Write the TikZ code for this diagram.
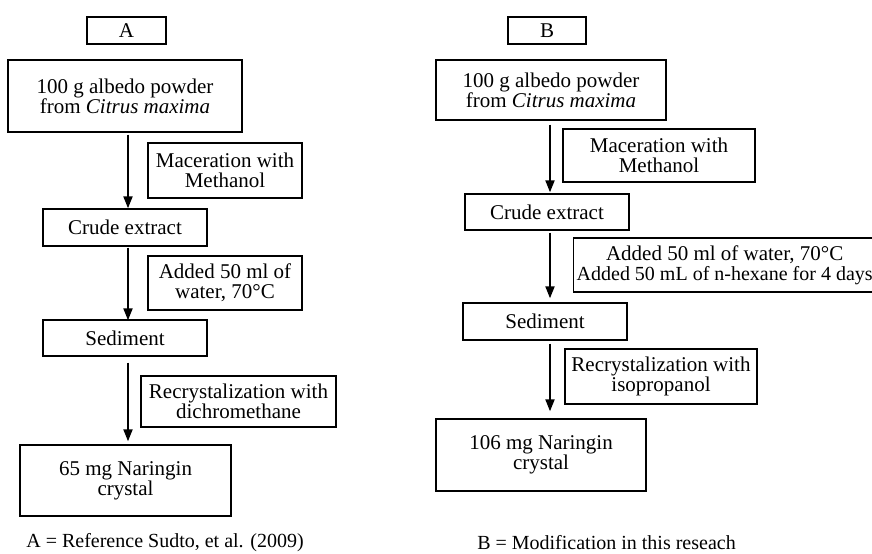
\documentclass[tikz,border=0pt]{standalone}
\usepackage{fontspec}
\setmainfont{Liberation Serif}
\usetikzlibrary{arrows.meta}

\begin{document}
\begin{tikzpicture}[x=0.5pt,y=-0.5pt,
	box/.style={rectangle, draw=black, line width=0.7pt, inner sep=0mm, align=center, font=\fontsize{10.5}{10}\selectfont},
	flow/.style={line width=1pt, -{Triangle[length=6pt,width=4.5pt]}},
	legend/.style={inner sep=0mm, font=\fontsize{10}{12}\selectfont}]

	\clip (0,0) rectangle (872,553);

	% method A
	\node[box, minimum width=39.5pt, minimum height=13.5pt] at (126.5,30.5) (labA) {A};

	\node[box, minimum width=117pt, minimum height=36pt] at (125,96) (powA) {100 g albedo powder\\from \textit{Citrus maxima}};

	\node[box, minimum width=77pt, minimum height=27.5pt] at (225,170.5) (macA) {Maceration with\\Methanol};

	\node[box, minimum width=82pt, minimum height=18.5pt] at (125,227.5) (crudeA) {Crude extract};

	\node[box, minimum width=77pt, minimum height=27pt] at (225,283) (addA) {Added 50 ml of\\water, 70°C};

	\node[box, minimum width=82pt, minimum height=18pt] at (125,338) (sedA) {Sediment};

	\node[box, minimum width=97.5pt, minimum height=25.5pt] at (238.5,401.5) (recA) {Recrystalization with\\dichromethane};

	\node[box, minimum width=105.5pt, minimum height=35.5pt] at (125.5,480.5) (narA) {65 mg Naringin\\crystal};

	\draw[flow, shorten <=1pt] ([xshift=1.5pt]powA.south) -- ([xshift=1.5pt]crudeA.north);
	\draw[flow, shorten <=0.5pt, shorten >=-0.5pt] ([xshift=1.5pt]crudeA.south) -- ([xshift=1.5pt]sedA.north);
	\draw[flow, shorten <=3pt, shorten >=1.5pt] ([xshift=1.5pt]sedA.south) -- ([xshift=1.25pt]narA.north);

	\node[legend] at (165,543) (capA) {A = Reference Sudto, et al. (2009)};

	% method B
	\node[box, minimum width=39pt, minimum height=13.5pt] at (547,30.5) (labB) {B};

	\node[box, minimum width=115pt, minimum height=30pt] at (551,90) (powB) {100 g albedo powder\\from \textit{Citrus maxima}};

	\node[box, minimum width=96pt, minimum height=26.5pt] at (659,155.5) (macB) {Maceration with\\Methanol};

	\node[box, minimum width=82pt, minimum height=18pt] at (547,212) (crudeB) {Crude extract};

	% right edge runs off the page, as in the original
	\node[box, anchor=west, minimum width=151pt, minimum height=27pt] at (573,265) (addB) {Added 50 ml of water, 70°C\\{\fontsize{10}{10}\selectfont Added 50 mL of n-hexane for 4 days}};

	\node[box, minimum width=82pt, minimum height=18.5pt] at (545,321.5) (sedB) {Sediment};

	\node[box, minimum width=96pt, minimum height=27.5pt] at (661,376.5) (recB) {Recrystalization with\\isopropanol};

	\node[box, minimum width=105pt, minimum height=36pt] at (541,455) (narB) {106 mg Naringin\\crystal};

	\draw[flow, shorten <=2pt, shorten >=0.5pt] ([xshift=-0.5pt]powB.south) -- ([xshift=1.5pt]crudeB.north);
	\draw[flow, shorten <=1pt, shorten >=2pt] ([xshift=1.5pt]crudeB.south) -- ([xshift=2.5pt]sedB.north);
	\draw[flow, shorten <=1.5pt, shorten >=3.5pt] ([xshift=2.5pt]sedB.south) -- ([xshift=4.5pt]narB.north);

	\node[legend] at (606.5,543) (capB) {B = Modification in this reseach};

\end{tikzpicture}
\end{document}
